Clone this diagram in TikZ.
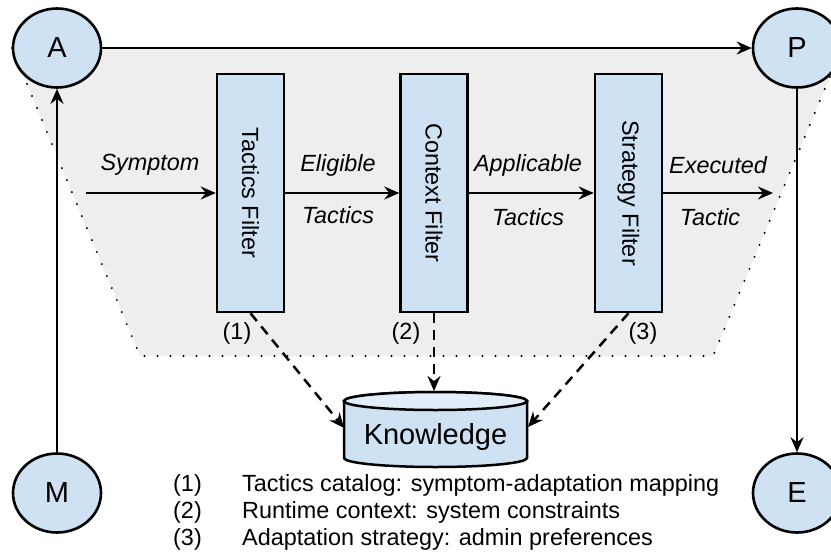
\documentclass[tikz,border=0pt]{standalone}
\usepackage{fontspec}
\setmainfont{Liberation Sans}
\usetikzlibrary{shapes.geometric,arrows.meta}
\definecolor{lblue}{HTML}{CFE2F3}
\definecolor{ltop}{HTML}{E1EDF8}
\definecolor{lgray}{HTML}{EEEEEE}
\tikzset{
  circ/.style={ellipse, draw, line width=2.6pt, fill=lblue, minimum width=88pt, minimum height=79pt, inner sep=0pt, font=\fontsize{29}{33}\selectfont},
  fbox/.style={rectangle, draw, line width=2.5pt, fill=lblue, minimum width=67pt, minimum height=238pt, inner sep=0pt, font=\fontsize{23.4}{27}\selectfont},
  arr/.style={line width=2.3pt, -{Stealth[length=15pt,width=13pt,inset=5pt]}},
  darr/.style={line width=2.5pt, dash pattern=on 10pt off 7pt, -{Stealth[length=15pt,width=13pt,inset=5pt]}},
  lbl/.style={inner sep=0pt, font=\fontsize{23.4}{27}\selectfont\itshape},
  num/.style={inner sep=0pt, font=\fontsize{23.4}{27}\selectfont},
}
\begin{document}
\begin{tikzpicture}[x=1pt,y=-1pt]
\useasboundingbox (0,0) rectangle (831,555);
\clip (0,0) rectangle (831,555);
% background trapezoid
\fill[lgray] (12,48) -- (140,356) -- (713,356) -- (842,48) -- cycle;
\draw[line width=2.2pt, line cap=round, dash pattern=on 0pt off 13pt] (12,48) -- (140,356) -- (713,356) -- (842,48);
% MAPE circles
\node[circ] (A) at (57,48) {A};
\node[circ] (P) at (797,48) {P};
\node[circ] (M) at (57,493) {M};
\node[circ] (E) at (797,493) {E};
\draw[arr] (A) -- (P);
\draw[arr] (M) -- (A);
\draw[arr] (P) -- (E);
% filters
\node[fbox] (tf) at (250.5,193) {\rotatebox{-90}{Tactics Filter}};
\node[fbox] (cf) at (434,193) {\rotatebox{-90}{Context Filter}};
\node[fbox] (sf) at (628.5,193) {\rotatebox{-90}{Strategy Filter}};
\coordinate (sin) at (86,193);
\coordinate (sout) at (773,193);
\draw[arr] (sin) -- (tf.west);
\draw[arr] (tf.east) -- (cf.west);
\draw[arr] (cf.east) -- (sf.west);
\draw[arr] (sf.east) -- (sout);
\node[lbl] (l1) at (150,165) {Symptom};
\node[lbl] (l2) at (338,165) {Eligible};
\node[lbl] (l3) at (338,215) {Tactics};
\node[lbl] (l4) at (528,165) {Applicable};
\node[lbl] (l5) at (528,217) {Tactics};
\node[lbl] (l6) at (718,165) {Executed};
\node[lbl] (l7) at (710,217) {Tactic};
\node[num] (n1) at (237,333) {(1)};
\node[num] (n2) at (406,333) {(2)};
\node[num] (n3) at (643,333) {(3)};
% knowledge cylinder
\path[draw, line width=2.5pt, fill=lblue] (344,401) -- (344,458) arc[start angle=180, end angle=360, x radius=91.5pt, y radius=9pt] -- (527,401) arc[start angle=0, end angle=180, x radius=91.5pt, y radius=9pt] -- cycle;
\path[draw, line width=2.5pt, fill=ltop] (435.5,401) ellipse[x radius=91.5pt, y radius=9pt];
\node[inner sep=0pt, font=\fontsize{29}{33}\selectfont] (kn) at (435.5,437) {Knowledge};
\coordinate (kL) at (344,428);
\coordinate (kT) at (434,391);
\coordinate (kR) at (528,427);
\draw[darr] (tf.south) -- (kL);
\draw[darr] (cf.south) -- (kT);
\draw[darr] (sf.south) -- (kR);
% legend
\node[num, anchor=west] (c1) at (173,485) {(1)};
\node[num, anchor=west] (c2) at (173,512) {(2)};
\node[num, anchor=west] (c3) at (173,539) {(3)};
\node[num, anchor=west] (t1) at (242,485) {Tactics catalog: symptom-adaptation mapping};
\node[num, anchor=west] (t2) at (242,512) {Runtime context: system constraints};
\node[num, anchor=west] (t3) at (242,539) {Adaptation strategy: admin preferences};
\end{tikzpicture}
\end{document}
